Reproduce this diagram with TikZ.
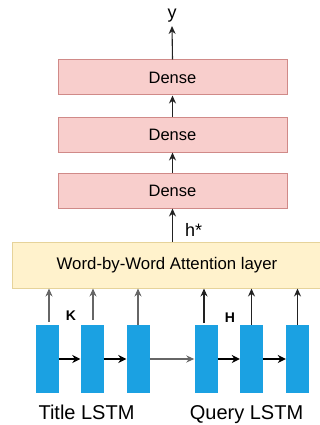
\documentclass[tikz,border=0pt]{standalone}
\usepackage{fontspec}
\setmainfont{Liberation Sans}
\usetikzlibrary{arrows.meta}
\definecolor{densefill}{HTML}{F8CECC}
\definecolor{denseline}{HTML}{D08A88}
\definecolor{attfill}{HTML}{FFF2CC}
\definecolor{attline}{HTML}{E6D39A}
\definecolor{lstmblue}{HTML}{1BA1E2}
\definecolor{darkline}{HTML}{222222}
\definecolor{grayline}{HTML}{666666}
\tikzset{
  densebox/.style={draw=denseline, fill=densefill, line width=1pt, minimum width=229pt, minimum height=35pt, inner sep=0pt, font=\fontsize{16.5}{18}\selectfont},
  attbox/.style={draw=attline, fill=attfill, line width=1pt, minimum width=310pt, minimum height=46pt, inner sep=0pt, font=\fontsize{16.8}{18}\selectfont},
  lstm/.style={fill=lstmblue, minimum width=23pt, minimum height=68pt, inner sep=0pt},
  tip/.style={-{Stealth[length=8pt,width=7pt]}},
  uparrow/.style={tip, line width=1.1pt, draw=darkline},
  grayup/.style={tip, line width=1.1pt, draw=grayline},
  rarrow/.style={-{Stealth[length=8pt,width=8pt]}, line width=2pt, draw=black},
  grayarrow/.style={-{Stealth[length=8pt,width=7pt]}, line width=1.4pt, draw=grayline},
  lbl/.style={inner sep=0pt},
}
\begin{document}
\begin{tikzpicture}[x=1pt,y=-1pt]
\useasboundingbox (0,0) rectangle (320,425);
% dense layers
\node[densebox] (d1) at (172.5,77.5) {Dense};
\node[densebox] (d2) at (172.5,134.5) {Dense};
\node[densebox] (d3) at (172.5,190.5) {Dense};
% attention layer
\node[attbox] (att) at (167,265) {Word-by-Word Attention layer};
% output
\node[lbl, font=\fontsize{18}{20}\selectfont] (y) at (172,16) {y};
\coordinate (ytip) at (172,26);
% LSTM blocks
\node[lstm] (t1) at (47,359) {};
\node[lstm] (t2) at (92,359) {};
\node[lstm] (t3) at (138,359) {};
\node[lstm] (q1) at (206,359) {};
\node[lstm] (q2) at (251.5,359) {};
\node[lstm] (q3) at (297.5,359) {};
% arrows between dense layers
\draw[uparrow] (d1.north) -- (ytip);
\draw[uparrow] (d2.north) -- (d1.south);
\draw[uparrow] (d3.north) -- (d2.south);
\draw[uparrow] (att.north -| d3.south) -- (d3.south);
\node[lbl, font=\fontsize{18}{20}\selectfont, anchor=west] (hstar) at (185,230) {h*};
% horizontal LSTM arrows
\draw[rarrow] (t1.east) -- (t2.west);
\draw[rarrow] (t2.east) -- (t3.west);
\draw[grayarrow] (t3.east) -- (q1.west);
\draw[rarrow] (q1.east) -- (q2.west);
\draw[rarrow] (q2.east) -- (q3.west);
% vertical arrows to attention
\coordinate (s1) at (49,322);
\coordinate (s2) at (93,320);
\coordinate (s4) at (204,323);
\draw[grayup] (s1) -- (s1 |- att.south);
\draw[grayup] (s2) -- (s2 |- att.south);
\draw[grayup] (t3.north) -- (t3.north |- att.south);
\draw[uparrow] (s4) -- (s4 |- att.south);
\draw[uparrow] (q2.north) -- (q2.north |- att.south);
\draw[uparrow] (q3.north) -- (q3.north |- att.south);
% labels
\node[lbl, font=\bfseries\fontsize{14}{16}\selectfont] (k) at (71,316) {K};
\node[lbl, font=\bfseries\fontsize{14}{16}\selectfont] (h) at (230,318) {H};
\node[lbl, font=\fontsize{20}{22}\selectfont, anchor=base] (tl) at (86.5,419) {Title LSTM};
\node[lbl, font=\fontsize{20}{22}\selectfont, anchor=base] (ql) at (246.5,419) {Query LSTM};
\end{tikzpicture}
\end{document}
